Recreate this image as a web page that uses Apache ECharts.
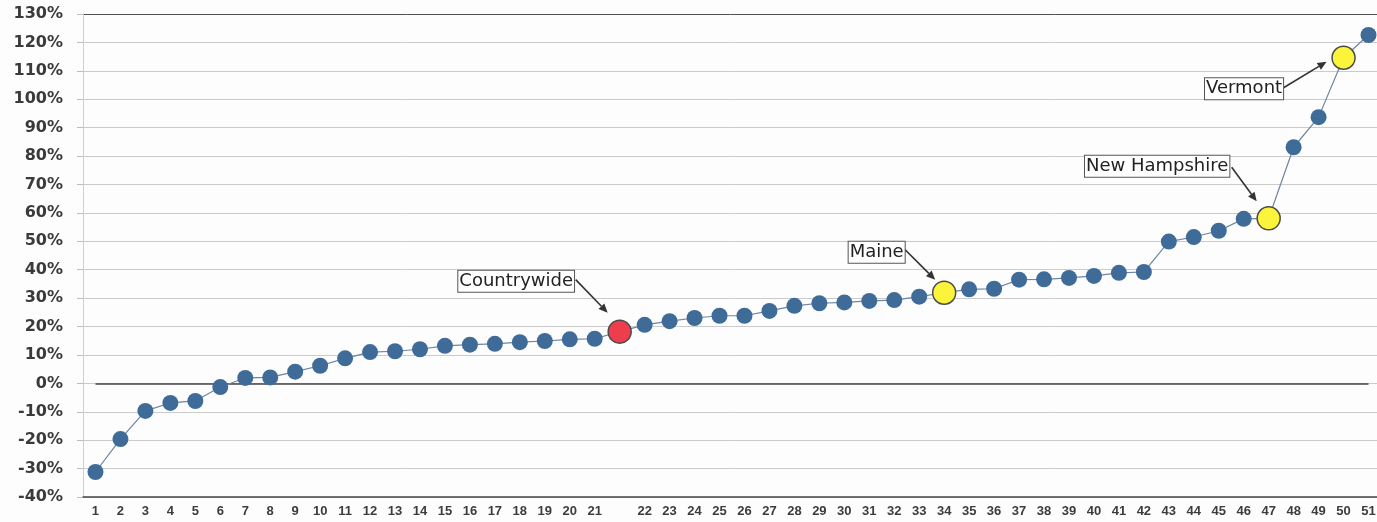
<!DOCTYPE html>
<html>
<head>
<meta charset="utf-8">
<script src="https://cdn.jsdelivr.net/npm/echarts@6/dist/echarts.min.js"></script>
<style>
  html, body { margin: 0; padding: 0; background: #ffffff; }
  #chart { width: 1377px; height: 522px; }
</style>
</head>
<body>
<div id="chart"></div>
<script>
// Ranked percentage change by state, with countrywide inserted in rank order
const categories = [
  '1','2','3','4','5','6','7','8','9','10','11','12','13','14','15','16','17','18','19','20','21',
  '',
  '22','23','24','25','26','27','28','29','30','31','32','33','34','35','36','37','38','39','40',
  '41','42','43','44','45','46','47','48','49','50','51'
];

const changePct = [
  -31.2, -19.6, -9.7, -6.9, -6.2, -1.3, 1.9, 2.1, 4.1, 6.2, 8.8, 11.0, 11.3, 12.0, 13.2,
  13.6, 13.9, 14.5, 14.9, 15.5, 15.7,
  18.2,
  20.6, 21.9, 23.0, 23.8, 23.8, 25.5, 27.3, 28.2, 28.5, 29.0, 29.3, 30.5, 31.9, 33.1, 33.3,
  36.5, 36.6, 37.1, 37.8, 38.9, 39.2, 49.9, 51.5, 53.7, 57.9, 58.1, 83.1, 93.7, 114.6, 122.6
];

const yTicks = { min: -40, max: 130, step: 10 };

// Called-out points: category position and caption
const calloutIndex = [21, 34, 47, 50];
const calloutName = ['Countrywide', 'Maine', 'New Hampshire', 'Vermont'];

// Styling for the called-out points
const calloutColor = ['#ee3e4d', '#fbf43a', '#fbf43a', '#fbf43a'];

// Label box centre and arrow ends, relative to the point (pixels)
const calloutLayout = [
  { box: [-103.5, -50.5], from: [-44, -52], to: [-12, -19] },
  { box: [-67.5, -40.5], from: [-41, -45], to: [-9, -13] },
  { box: [-111.5, -52], from: [-37, -51], to: [-12, -17] },
  { box: [-99.5, 31], from: [-60, 30], to: [-17, 4] }
];

const seriesData = changePct.map((v, i) => {
  const k = calloutIndex.indexOf(i);
  if (k < 0) return v;
  return {
    value: v,
    symbolSize: 23,
    itemStyle: { color: calloutColor[k], borderColor: '#4a4a4a', borderWidth: 1.5 }
  };
});

// 18 split lines from -40% to 130%; the top one doubles as the frame edge
const splitColors = [];
for (let v = yTicks.min; v <= yTicks.max; v += yTicks.step) {
  splitColors.push(v === yTicks.max ? '#505050' : '#cbcbcb');
}

const chart = echarts.init(document.getElementById('chart'), null, { renderer: 'canvas' });

chart.setOption({
  backgroundColor: '#fdfdfd',
  animation: false,
  grid: { left: 83, top: 14, width: 1298, height: 483, outerBoundsMode: 'none', containLabel: false },
  xAxis: {
    type: 'category',
    data: categories,
    boundaryGap: true,
    axisLine: { show: true, onZero: false, lineStyle: { color: '#444', width: 1.5 } },
    axisTick: { show: false },
    splitLine: { show: false },
    axisLabel: {
      interval: 0,
      margin: 8,
      color: '#3c3c3c',
      fontFamily: 'Liberation Sans',
      fontSize: 13,
      fontWeight: 'bold'
    }
  },
  yAxis: {
    type: 'value',
    min: yTicks.min,
    max: yTicks.max,
    interval: yTicks.step,
    axisLine: { show: true, lineStyle: { color: '#cfcfcf', width: 1 } },
    axisTick: { show: true, length: 6, lineStyle: { color: '#bdbdbd' } },
    splitLine: { show: true, lineStyle: { color: splitColors, width: 1 } },
    axisLabel: {
      margin: 20,
      color: '#3a3a3a',
      fontFamily: 'DejaVu Sans',
      fontSize: 16,
      fontWeight: 'bold',
      formatter: v => Math.round(v) + '%'
    }
  },
  series: [{
    type: 'line',
    data: seriesData,
    symbol: 'circle',
    symbolSize: 16,
    itemStyle: { color: '#3f6b98' },
    lineStyle: { color: '#6f84a0', width: 1.2 },
    z: 3,
    markLine: {
      silent: true,
      symbol: 'none',
      label: { show: false },
      lineStyle: { color: '#444', width: 1.5, type: 'solid' },
      data: [[
        { coord: [categories[0], 0] },
        { coord: [categories[categories.length - 1], 0] }
      ]],
      z: 2
    }
  }]
});

// Caption boxes with arrows pointing at the called-out points
function arrowGraphics(x1, y1, x2, y2) {
  const ang = Math.atan2(y2 - y1, x2 - x1);
  const len = 9, half = 4;
  const bx = x2 - len * Math.cos(ang), by = y2 - len * Math.sin(ang);
  const px = -Math.sin(ang) * half, py = Math.cos(ang) * half;
  return [
    { type: 'line', shape: { x1: x1, y1: y1, x2: bx, y2: by },
      style: { stroke: '#333', lineWidth: 1.6 }, z: 10 },
    { type: 'polygon', shape: { points: [[x2, y2], [bx + px, by + py], [bx - px, by - py]] },
      style: { fill: '#333' }, z: 10 }
  ];
}

const graphics = [];
calloutIndex.forEach((idx, k) => {
  const p = chart.convertToPixel({ seriesIndex: 0 }, [idx, changePct[idx]]);
  const lay = calloutLayout[k];
  graphics.push(...arrowGraphics(p[0] + lay.from[0], p[1] + lay.from[1], p[0] + lay.to[0], p[1] + lay.to[1]));
  graphics.push({
    type: 'text',
    x: p[0] + lay.box[0],
    y: p[1] + lay.box[1],
    z: 11,
    style: {
      text: calloutName[k],
      font: '18px "DejaVu Sans"',
      fill: '#222',
      align: 'center',
      verticalAlign: 'middle',
      backgroundColor: '#ffffff',
      borderColor: '#555',
      borderWidth: 1,
      padding: [2, 1, 1, 1]
    }
  });
});
chart.setOption({ graphic: graphics });
</script>
</body>
</html>
